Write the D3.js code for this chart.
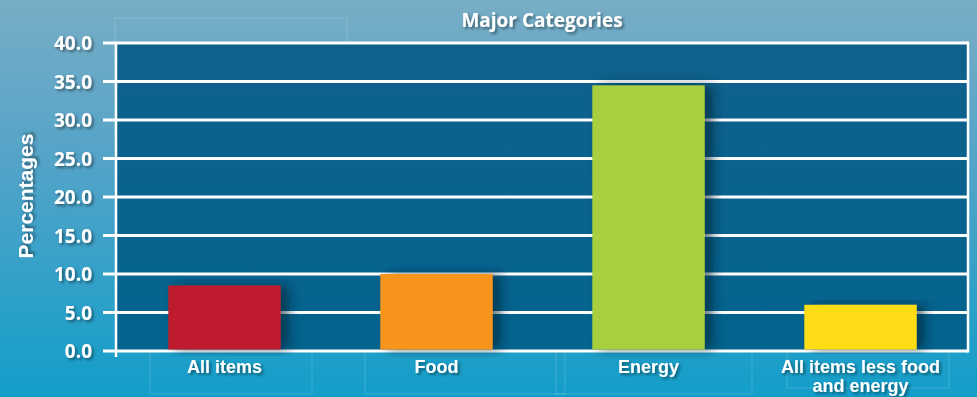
<!DOCTYPE html>
<html>
<head>
<meta charset="utf-8">
<script src="https://cdn.jsdelivr.net/npm/d3@7"></script>
<style>
  html, body { margin: 0; padding: 0; overflow: hidden; }
  svg { display: block; font-family: "Liberation Sans", Arial, Helvetica, sans-serif; }
</style>
</head>
<body>
<svg id="chart" width="977" height="397"></svg>
<script>
// Percent change by major category
const categories = ["All items", "Food", "Energy", "All items less food and energy"];
const values = [8.5, 10.0, 34.5, 6.0];
const barColors = ["#be1e2d", "#f7941d", "#a8cf3c", "#fedd17"];
const yTicks = [0, 5, 10, 15, 20, 25, 30, 35, 40];
const titleText = "Major Categories";
const yLabel = "Percentages";

const W = 977, H = 397;
const margin = { left: 116, right: 9, top: 43, bottom: 46 };
const svg = d3.select("#chart");
const defs = svg.append("defs");

// backdrop gradient
const bg = defs.append("linearGradient").attr("id", "bg")
  .attr("x1", 0).attr("y1", 0).attr("x2", 0).attr("y2", 1);
bg.append("stop").attr("offset", "0%").attr("stop-color", "#78adc6");
bg.append("stop").attr("offset", "45%").attr("stop-color", "#4fa3c8");
bg.append("stop").attr("offset", "100%").attr("stop-color", "#129ec9");

const plotGrad = defs.append("linearGradient").attr("id", "plotbg")
  .attr("x1", 0).attr("y1", 0).attr("x2", 0).attr("y2", 1);
plotGrad.append("stop").attr("offset", "0%").attr("stop-color", "#0f618c");
plotGrad.append("stop").attr("offset", "100%").attr("stop-color", "#03648f");

const txtShadow = defs.append("filter").attr("id", "tshadow")
  .attr("x", "-20%").attr("y", "-40%").attr("width", "140%").attr("height", "180%");
txtShadow.append("feDropShadow").attr("dx", 2).attr("dy", 2)
  .attr("stdDeviation", 1.6).attr("flood-color", "#000").attr("flood-opacity", 0.45);

const barShadow = defs.append("filter").attr("id", "bshadow")
  .attr("x", "-20%").attr("y", "-10%").attr("width", "160%").attr("height", "120%");
barShadow.append("feDropShadow").attr("dx", 8).attr("dy", 0)
  .attr("stdDeviation", 6).attr("flood-color", "#021c2c").attr("flood-opacity", 0.6);

svg.append("rect").attr("width", W).attr("height", H).attr("fill", "url(#bg)");

// faint decorative frames
const frames = [[115, 18, 232, 115], [150, 274, 162, 120], [365, 274, 200, 120],
                [556, 274, 196, 120], [787, 288, 162, 100], [583, 83, 152, 47]];
svg.append("g").selectAll("rect").data(frames).join("rect")
  .attr("x", d => d[0]).attr("y", d => d[1]).attr("width", d => d[2]).attr("height", d => d[3])
  .attr("fill", "none").attr("stroke", "#ffffff").attr("stroke-opacity", 0.18).attr("stroke-width", 1);

const x = d3.scaleBand().domain(categories)
  .range([118.5, 966.5]).paddingInner(0.47).paddingOuter(0.235);
const y = d3.scaleLinear().domain([0, 40]).range([H - margin.bottom, margin.top]);

// plot area
svg.append("rect")
  .attr("x", margin.left).attr("y", y(40))
  .attr("width", W - margin.right - margin.left).attr("height", y(0) - y(40))
  .attr("fill", "url(#plotbg)");

// grid lines
svg.append("g").selectAll("line").data(yTicks).join("line")
  .attr("x1", 103).attr("x2", W - margin.right)
  .attr("y1", d => y(d)).attr("y2", d => y(d))
  .attr("stroke", "#ffffff").attr("stroke-width", 3);

// right border
svg.append("line")
  .attr("x1", W - margin.right).attr("x2", W - margin.right)
  .attr("y1", y(40) - 1.5).attr("y2", y(0) + 1.5)
  .attr("stroke", "#ffffff").attr("stroke-width", 2.5);

// bars
svg.append("g").selectAll("rect").data(values).join("rect")
  .attr("x", (d, i) => x(categories[i]))
  .attr("y", d => y(d))
  .attr("width", x.bandwidth())
  .attr("height", d => y(0) - y(d) - 1.5)
  .attr("fill", (d, i) => barColors[i])
  .attr("filter", "url(#bshadow)");

// left axis line
svg.append("line")
  .attr("x1", margin.left).attr("x2", margin.left)
  .attr("y1", y(40)).attr("y2", y(0) + 6)
  .attr("stroke", "#ffffff").attr("stroke-width", 2.5);

// y tick labels
const yAxis = d3.axisLeft(y).tickValues(yTicks).tickFormat(d3.format(".1f")).tickSize(0).tickPadding(0);
const yg = svg.append("g").attr("transform", "translate(92,0)").call(yAxis);
yg.select(".domain").remove();
yg.selectAll("text")
  .attr("fill", "#ffffff").attr("font-size", 19).attr("font-weight", "bold")
  .attr("font-family", "'Open Sans', sans-serif")
  .attr("dy", "0.36em").attr("filter", "url(#tshadow)");

// x labels
const xg = svg.append("g");
categories.forEach((c, i) => {
  const lines = c === "All items less food and energy" ? ["All items less food", "and energy"] : [c];
  const t = xg.append("text")
    .attr("x", x(c) + x.bandwidth() / 2).attr("y", 373)
    .attr("text-anchor", "middle").attr("fill", "#ffffff")
    .attr("font-size", 18).attr("font-weight", "bold").attr("filter", "url(#tshadow)");
  lines.forEach((l, k) => t.append("tspan").attr("x", x(c) + x.bandwidth() / 2).attr("dy", k ? 19 : 0).text(l));
});

// title
svg.append("text").attr("x", 542).attr("y", 27)
  .attr("text-anchor", "middle").attr("fill", "#ffffff")
  .attr("font-family", "'Open Sans', sans-serif")
  .attr("font-size", 19).attr("font-weight", "bold").attr("filter", "url(#tshadow)")
  .text(titleText);

// y axis title
svg.append("text")
  .attr("transform", `translate(33,196) rotate(-90)`)
  .attr("text-anchor", "middle").attr("fill", "#ffffff")
  .attr("font-size", 21).attr("font-weight", "bold").attr("filter", "url(#tshadow)")
  .text(yLabel);
</script>
</body>
</html>
